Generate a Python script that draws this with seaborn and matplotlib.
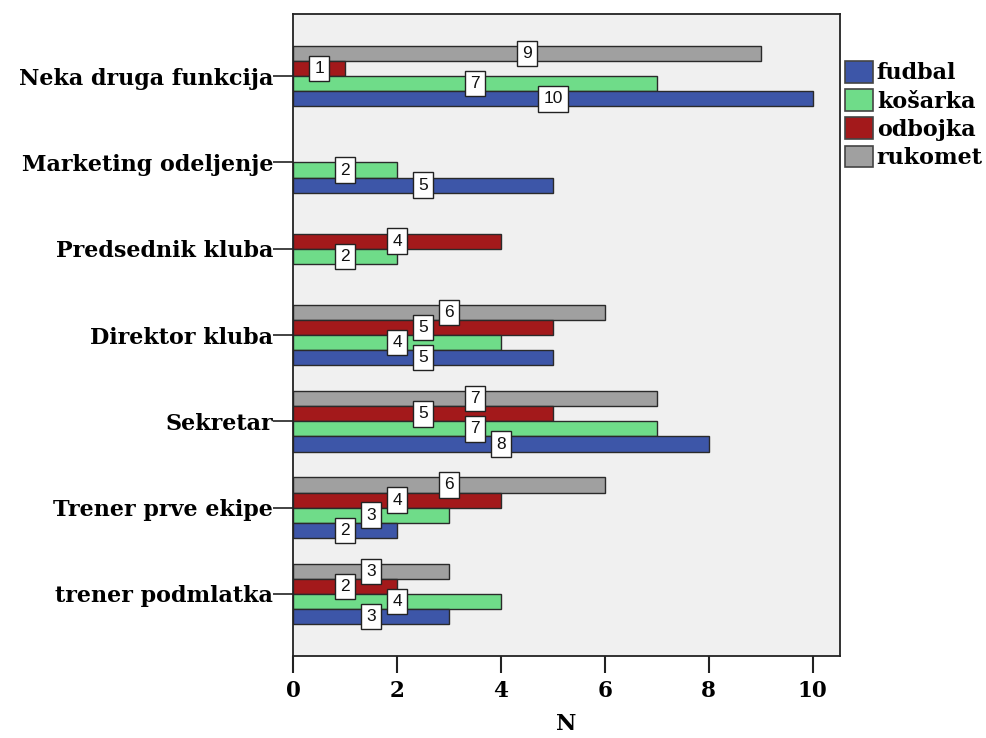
import matplotlib
matplotlib.use("Agg")
import matplotlib.pyplot as plt
from matplotlib.patches import Patch
import seaborn as sns
import pandas as pd

# Categories (top to bottom) and respondent counts per sport
funkcije = ["Neka druga funkcija", "Marketing odeljenje", "Predsednik kluba",
            "Direktor kluba", "Sekretar", "Trener prve ekipe", "trener podmlatka"]
sportovi = ["fudbal", "košarka", "odbojka", "rukomet"]
fudbal = [10, 5, 0, 5, 8, 2, 3]
kosarka = [7, 2, 2, 4, 7, 3, 4]
odbojka = [1, 0, 4, 5, 5, 4, 2]
rukomet = [9, 0, 0, 6, 7, 6, 3]
boje = {"fudbal": "#3d56a8", "košarka": "#6fdc89", "odbojka": "#a3191b",
        "rukomet": "#a0a0a0"}

rows = []
for sport, vals in zip(sportovi, [fudbal, kosarka, odbojka, rukomet]):
    for f, v in zip(funkcije, vals):
        if v > 0:
            rows.append({"funkcija": f, "sport": sport, "N": v})
df = pd.DataFrame(rows)

sns.set_style("white")
plt.rcParams["font.family"] = ["DejaVu Serif"]
plt.rcParams["font.weight"] = "bold"
plt.rcParams["text.color"] = "black"
plt.rcParams["axes.labelcolor"] = "black"

fig = plt.figure(figsize=(9.87, 7.38), dpi=100)
ax = fig.add_axes([0.2969, 0.111, 0.554, 0.870])
ax.set_facecolor("#f0f0f0")

# first hue level is drawn at the top of each group, so reverse for fudbal at bottom
sns.barplot(data=df, y="funkcija", x="N", hue="sport", order=funkcije,
            hue_order=sportovi[::-1], palette=boje, saturation=1, orient="h",
            width=0.7, edgecolor="#2a2a2a", linewidth=1.0, legend=False, ax=ax)

for cont in ax.containers:
    ax.bar_label(cont, label_type="center", fontsize=12.5, fontweight="normal",
                 family="Liberation Sans", color="#111111",
                 bbox=dict(boxstyle="square,pad=0.3", fc="white",
                           ec="#222222", lw=1.0))

ax.set_xlim(0, 10.52)
ax.set_ylim(6.72, -0.72)
ax.set_xticks([0, 2, 4, 6, 8, 10])
ax.tick_params(axis="x", length=12, width=1.5, direction="out", pad=5,
               labelsize=15.5, bottom=True, color="#222222", labelcolor="black")
ax.tick_params(axis="y", length=14.4, width=1.2, direction="out", pad=0,
               labelsize=16, left=True, color="#222222", labelcolor="black")
for lab in ax.get_xticklabels() + ax.get_yticklabels():
    lab.set_fontweight("bold")
ax.set_ylabel("")
ax.set_xlabel("N", fontsize=16, fontweight="bold", labelpad=8)
for s in ax.spines.values():
    s.set_visible(True)
    s.set_color("#222222")
    s.set_linewidth(1.3)

handles = [Patch(facecolor=boje[s], edgecolor="#444444", lw=1.2, label=s)
           for s in sportovi]
fig.legend(handles=handles, loc="upper left", bbox_to_anchor=(0.856, 0.917),
           frameon=False, handlelength=1.26, handleheight=1.1,
           handletextpad=0.18, labelspacing=0.22, borderaxespad=0,
           borderpad=0.0, prop={"weight": "bold", "size": 16})

fig.savefig("out.png", dpi=100)
